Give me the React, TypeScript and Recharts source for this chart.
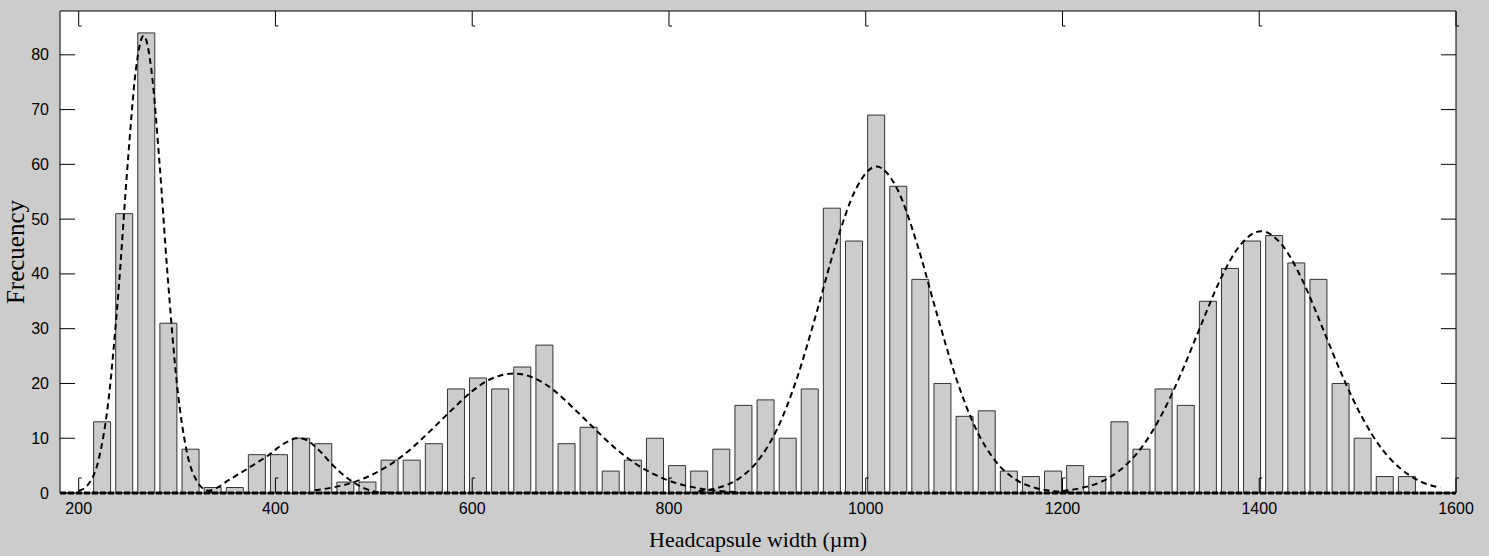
import { ComposedChart, Bar, Line, XAxis, YAxis, CartesianGrid, Label, ReferenceLine } from 'recharts'

// histogram bins (centre of each bin, µm) and their counts
const binCenters = [
  200.8, 223.3, 245.8, 268.2, 290.7, 313.2, 335.7, 358.2, 380.6, 403.1,
  425.6, 448.1, 470.6, 493.0, 515.5, 538.0, 560.5, 583.0, 605.4, 627.9,
  650.4, 672.9, 695.4, 717.8, 740.3, 762.8, 785.3, 807.8, 830.2, 852.7,
  875.2, 897.7, 920.2, 942.6, 965.1, 987.6, 1010.1, 1032.6, 1055.0, 1077.5,
  1100.0, 1122.5, 1145.0, 1167.4, 1189.9, 1212.4, 1234.9, 1257.4, 1279.8, 1302.3,
  1324.8, 1347.3, 1369.8, 1392.2, 1414.7, 1437.2, 1459.7, 1482.2, 1504.6, 1527.1,
  1549.6,
]
const counts = [
  0, 13, 51, 84, 31, 8, 1, 1, 7, 7,
  10, 9, 2, 2, 6, 6, 9, 19, 21, 19,
  23, 27, 9, 12, 4, 6, 10, 5, 4, 8,
  16, 17, 10, 19, 52, 46, 69, 56, 39, 20,
  14, 15, 4, 3, 4, 5, 3, 13, 8, 19,
  16, 35, 41, 46, 47, 42, 39, 20, 10, 3,
  3,
]

// fitted components [width, frequency]
const instar1 = [
  [200, 0.36], [210, 1.65], [220, 5.9], [230, 16.5], [240, 35.9], [250, 60.6], [258, 77.1],
  [266, 83.5], [274, 77.1], [282, 60.6], [290, 40.6], [300, 19.7], [310, 7.4], [320, 2.2],
  [330, 0.5], [340, 0.1],
]
const instar2 = [
  [330, 0.3], [340, 0.9], [352, 2.3], [365, 3.7], [380, 5.4], [393, 6.9], [405, 8.6], [415, 9.6],
  [421, 10], [428, 9.9], [437, 9.0], [446, 7.5], [455, 5.7], [467, 3.6], [479, 2.0], [490, 0.9],
  [503, 0.2], [515, 0.05],
]
const instar3 = [
  [440, 0.5], [460, 1.07], [476, 1.77], [500, 3.5], [520, 5.6], [540, 8.4], [560, 11.8], [580, 15.3],
  [600, 18.6], [620, 20.9], [642, 21.8], [664, 20.9], [684, 18.6], [704, 15.3], [724, 11.8],
  [744, 8.4], [764, 5.6], [784, 3.5], [808, 1.77], [824, 1.07], [844, 0.5], [870, 0.15],
]
const instar4 = [
  [830, 0.32], [850, 0.96], [870, 2.5], [890, 5.8], [910, 11.7], [930, 20.9], [950, 32.9],
  [970, 45.6], [990, 55.5], [1011, 59.6], [1032, 55.5], [1052, 45.6], [1072, 32.9], [1092, 20.9],
  [1112, 11.7], [1132, 5.8], [1152, 2.5], [1172, 0.96], [1192, 0.32], [1210, 0.1],
]
const instar5 = [
  [1200, 0.38], [1220, 0.95], [1240, 2.1], [1260, 4.4], [1280, 8.2], [1300, 14.0], [1320, 21.6],
  [1340, 30.3], [1360, 38.8], [1380, 45.1], [1402, 47.8], [1424, 45.1], [1444, 38.8], [1464, 30.3],
  [1484, 21.6], [1504, 14.0], [1524, 8.2], [1544, 4.4], [1564, 2.1], [1584, 0.95],
]

const xTicks = [200, 400, 600, 800, 1000, 1200, 1400, 1600]
const yTicks = [0, 10, 20, 30, 40, 50, 60, 70, 80]

const histData = binCenters.map((x, i) => ({ x, count: counts[i] }))
const curves = [instar1, instar2, instar3, instar4, instar5].map(c => c.map(([x, y]) => ({ x, y })))

const sans = '"Liberation Sans", Arial, Helvetica, sans-serif'
const serif = '"Liberation Serif", "Times New Roman", serif'
const TICK_LEN = 15

function LeftTick({ x, y, payload }: any) {
  return (
    <g>
      <text x={x} y={y} textAnchor="end" dominantBaseline="central" fontFamily={sans} fontSize={16} fill="#000">
        {payload.value}
      </text>
      <line x1={x + 11} x2={x + 11 + TICK_LEN} y1={y} y2={y} stroke="#000" />
    </g>
  )
}

function RightTick({ x, y }: any) {
  return <line x1={x} x2={x - TICK_LEN} y1={y} y2={y} stroke="#000" />
}

function BottomTick({ x, y, payload }: any) {
  const base = y - 10
  return (
    <g>
      <text x={x} y={y} dy="0.71em" textAnchor="middle" fontFamily={sans} fontSize={16} fill="#000">
        {payload.value}
      </text>
      <path d={`M${x},${base} V${base - TICK_LEN} h3`} stroke="#000" fill="none" />
    </g>
  )
}

function TopTick({ x, y }: any) {
  return <path d={`M${x},${y} V${y + TICK_LEN} h3`} stroke="#000" fill="none" />
}

export default function App() {
  return (
    <div style={{ position: 'absolute', left: 0, top: 0, width: 1489, height: 556, background: '#cccccc' }}>
      <ComposedChart width={1489} height={556} data={histData} margin={{ top: 0, right: 0, bottom: 0, left: 0 }}>
        <CartesianGrid fill="#fff" horizontal={false} vertical={false} />
        <XAxis
          type="number"
          dataKey="x"
          domain={[181, 1600]}
          ticks={xTicks}
          interval={0}
          allowDataOverflow
          height={63}
          tickSize={0}
          tickMargin={10}
          tickLine={false}
          axisLine={{ stroke: '#000' }}
          tick={(p: any) => <BottomTick {...p} />}
        >
          <Label
            content={({ viewBox }: any) => (
              <text
                x={viewBox.x + viewBox.width / 2}
                y={viewBox.y + viewBox.height - 9}
                textAnchor="middle"
                fontFamily={serif}
                fontSize={22}
                fill="#000"
              >
                Headcapsule width (µm)
              </text>
            )}
          />
        </XAxis>
        <XAxis
          xAxisId="top"
          orientation="top"
          type="number"
          dataKey="x"
          domain={[181, 1600]}
          ticks={xTicks}
          interval={0}
          allowDataOverflow
          height={11}
          tickSize={0}
          tickMargin={0}
          tickLine={false}
          axisLine={{ stroke: '#000' }}
          tick={(p: any) => <TopTick {...p} />}
        />
        <YAxis
          type="number"
          domain={[0, 88]}
          ticks={yTicks}
          interval={0}
          allowDataOverflow
          width={60}
          tickSize={0}
          tickMargin={11}
          tickLine={false}
          axisLine={{ stroke: '#000' }}
          tick={(p: any) => <LeftTick {...p} />}
        >
          <Label
            content={({ viewBox }: any) => {
              const cx = viewBox.x + 15
              const cy = viewBox.y + viewBox.height / 2
              return (
                <text
                  x={cx}
                  y={cy}
                  transform={`rotate(-90 ${cx} ${cy})`}
                  textAnchor="middle"
                  dominantBaseline="central"
                  fontFamily={serif}
                  fontSize={25}
                  fill="#000"
                >
                  Frecuency
                </text>
              )
            }}
          />
        </YAxis>
        <YAxis
          yAxisId="right"
          orientation="right"
          type="number"
          domain={[0, 88]}
          ticks={yTicks}
          interval={0}
          allowDataOverflow
          width={33}
          tickSize={0}
          tickMargin={0}
          tickLine={false}
          axisLine={{ stroke: '#000' }}
          tick={(p: any) => <RightTick {...p} />}
        />
        <Bar dataKey="count" fill="#cccccc" stroke="#333" strokeWidth={1} barSize={17} isAnimationActive={false} />
        <ReferenceLine y={0} stroke="#000" strokeWidth={3} strokeDasharray="6 2" />
        {curves.map((c, i) => (
          <Line
            key={i}
            xAxisId="top"
            data={c}
            dataKey="y"
            type="monotone"
            stroke="#000"
            strokeWidth={2}
            strokeDasharray="6 4"
            dot={false}
            activeDot={false}
            isAnimationActive={false}
          />
        ))}
      </ComposedChart>
    </div>
  )
}
